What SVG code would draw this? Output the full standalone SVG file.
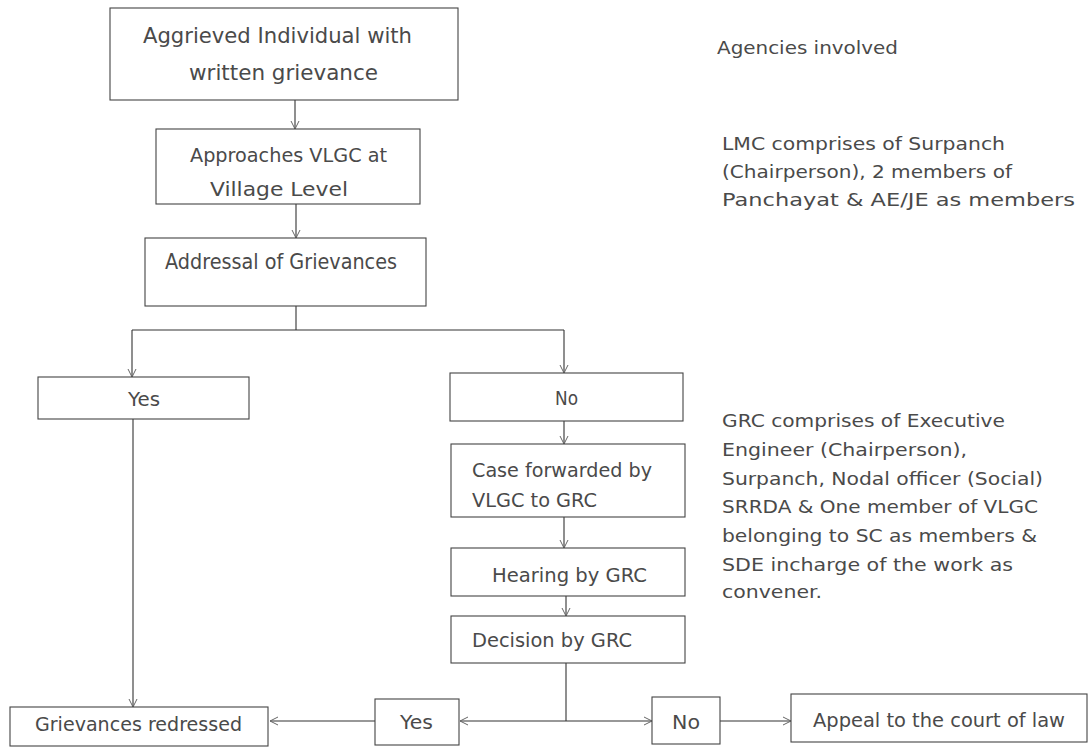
<svg xmlns="http://www.w3.org/2000/svg" width="1089" height="749" viewBox="0 0 1089 749">
<defs>
<marker id="arr" markerUnits="userSpaceOnUse" markerWidth="12" markerHeight="12" refX="9" refY="5" orient="auto">
<path d="M1,1 L9,5 L1,9" fill="none" stroke="#666" stroke-width="1"/>
</marker>
<style>
.box{fill:#fff;stroke:#444;stroke-width:1.1}
.t{font-family:"DejaVu Sans","Open Sans",sans-serif;fill:#4a4a4a}
.c{fill:none;stroke:#333;stroke-width:1.1}
.ca{fill:none;stroke:#333;stroke-width:1.1;marker-end:url(#arr)}
</style>
</defs>
<rect width="1089" height="749" fill="#fff"/>

<g id="connectors">
<line class="ca" x1="295" y1="100" x2="295" y2="129"/>
<line class="ca" x1="296" y1="204" x2="296" y2="238"/>
<polyline class="c" points="296,306 296,330"/>
<polyline class="c" points="132,330 564,330"/>
<line class="ca" x1="132" y1="330" x2="132" y2="377"/>
<line class="ca" x1="564" y1="330" x2="564" y2="373"/>
<line class="ca" x1="564" y1="421" x2="564" y2="444"/>
<line class="ca" x1="564" y1="517" x2="564" y2="548"/>
<line class="ca" x1="566" y1="596" x2="566" y2="616"/>
<polyline class="c" points="566,663 566,721"/>
<line class="ca" x1="566" y1="721" x2="460" y2="721"/>
<line class="ca" x1="566" y1="721" x2="652" y2="721"/>
<line class="ca" x1="375" y1="721" x2="270" y2="721"/>
<line class="ca" x1="720" y1="721" x2="791" y2="721"/>
<line class="ca" x1="133" y1="418" x2="133" y2="707"/>
</g>

<g id="n-aggrieved">
<rect class="box" x="110" y="8" width="348" height="92"/>
<text class="t" x="143" y="43" font-size="22" textLength="269" lengthAdjust="spacingAndGlyphs">Aggrieved Individual with</text>
<text class="t" x="189" y="80" font-size="22" textLength="189" lengthAdjust="spacingAndGlyphs">written grievance</text>
</g>

<g id="n-approaches">
<rect class="box" x="156" y="129" width="264" height="75"/>
<text class="t" x="190" y="162" font-size="20" textLength="197" lengthAdjust="spacingAndGlyphs">Approaches VLGC at</text>
<text class="t" x="210" y="196" font-size="20" textLength="138" lengthAdjust="spacingAndGlyphs">Village Level</text>
</g>

<g id="n-addressal">
<rect class="box" x="145" y="238" width="281" height="68"/>
<text class="t" x="165" y="269" font-size="21" textLength="232" lengthAdjust="spacingAndGlyphs">Addressal of Grievances</text>
</g>

<g id="n-yes1">
<rect class="box" x="38" y="377" width="211" height="42"/>
<text class="t" x="128" y="406" font-size="20" textLength="32" lengthAdjust="spacingAndGlyphs">Yes</text>
</g>

<g id="n-no1">
<rect class="box" x="450" y="373" width="233" height="48"/>
<text class="t" x="555" y="405" font-size="20" textLength="23" lengthAdjust="spacingAndGlyphs">No</text>
</g>

<g id="n-case">
<rect class="box" x="451" y="444" width="234" height="73"/>
<text class="t" x="472" y="477" font-size="19" textLength="180" lengthAdjust="spacingAndGlyphs">Case forwarded by</text>
<text class="t" x="472" y="507" font-size="19" textLength="125" lengthAdjust="spacingAndGlyphs">VLGC to GRC</text>
</g>

<g id="n-hearing">
<rect class="box" x="451" y="548" width="234" height="48"/>
<text class="t" x="492" y="582" font-size="19" textLength="155" lengthAdjust="spacingAndGlyphs">Hearing by GRC</text>
</g>

<g id="n-decision">
<rect class="box" x="451" y="616" width="234" height="47"/>
<text class="t" x="472" y="647" font-size="19" textLength="160" lengthAdjust="spacingAndGlyphs">Decision by GRC</text>
</g>

<g id="n-redressed">
<rect class="box" x="10" y="707" width="258" height="39"/>
<text class="t" x="35" y="731" font-size="20" textLength="207" lengthAdjust="spacingAndGlyphs">Grievances redressed</text>
</g>

<g id="n-yes2">
<rect class="box" x="375" y="699" width="84" height="46"/>
<text class="t" x="400" y="729" font-size="20" textLength="33" lengthAdjust="spacingAndGlyphs">Yes</text>
</g>

<g id="n-no2">
<rect class="box" x="652" y="697" width="68" height="47"/>
<text class="t" x="672" y="729" font-size="20" textLength="28" lengthAdjust="spacingAndGlyphs">No</text>
</g>

<g id="n-appeal">
<rect class="box" x="791" y="694" width="296" height="48"/>
<text class="t" x="813" y="727" font-size="20" textLength="252" lengthAdjust="spacingAndGlyphs">Appeal to the court of law</text>
</g>

<g id="notes">
<text class="t" x="717" y="54" font-size="18" textLength="181" lengthAdjust="spacingAndGlyphs">Agencies involved</text>
<text class="t" x="722" y="150" font-size="18" textLength="283" lengthAdjust="spacingAndGlyphs">LMC comprises of Surpanch</text>
<text class="t" x="722" y="178" font-size="18" textLength="290" lengthAdjust="spacingAndGlyphs">(Chairperson), 2 members of</text>
<text class="t" x="722" y="206" font-size="18" textLength="353" lengthAdjust="spacingAndGlyphs">Panchayat &amp; AE/JE as members</text>
<text class="t" x="722" y="427" font-size="18" textLength="283" lengthAdjust="spacingAndGlyphs">GRC comprises of Executive</text>
<text class="t" x="722" y="456" font-size="18" textLength="245" lengthAdjust="spacingAndGlyphs">Engineer (Chairperson),</text>
<text class="t" x="722" y="485" font-size="18" textLength="321" lengthAdjust="spacingAndGlyphs">Surpanch, Nodal officer (Social)</text>
<text class="t" x="722" y="513" font-size="18" textLength="316" lengthAdjust="spacingAndGlyphs">SRRDA &amp; One member of VLGC</text>
<text class="t" x="722" y="542" font-size="18" textLength="315" lengthAdjust="spacingAndGlyphs">belonging to SC as members &amp;</text>
<text class="t" x="722" y="571" font-size="18" textLength="291" lengthAdjust="spacingAndGlyphs">SDE incharge of the work as</text>
<text class="t" x="722" y="598" font-size="18" textLength="100" lengthAdjust="spacingAndGlyphs">convener.</text>
</g>
</svg>
